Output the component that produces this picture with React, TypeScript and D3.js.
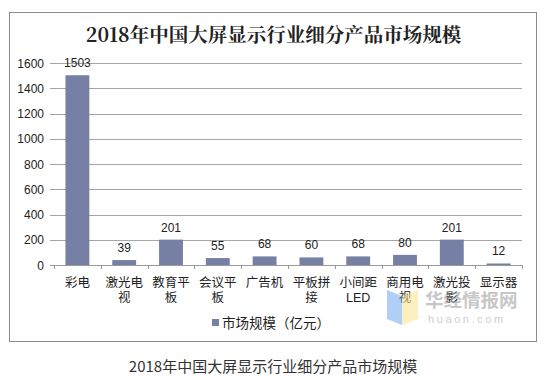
import React from "react";
import * as d3 from "d3";

const categories = ["彩电", "激光电视", "教育平板", "会议平板", "广告机", "平板拼接", "小间距LED", "商用电视", "激光投影", "显示器"];
const values = [1503, 39, 201, 55, 68, 60, 68, 80, 201, 12];
const yTicks = [0, 200, 400, 600, 800, 1000, 1200, 1400, 1600];
const title = "2018年中国大屏显示行业细分产品市场规模";
const seriesName = "市场规模（亿元）";

const W = 548, H = 380;
const left = 54, right = 522, top = 63, bottom = 265;
const barColor = "#7580A4";
const cjk = "'Noto Sans CJK SC', 'Noto Sans', sans-serif";
const latin = "'Liberation Sans', Arial, sans-serif";

function wrap(s: string): string[] {
  if (s.length <= 3) return [s];
  return [s.slice(0, 3), s.slice(3)];
}

export default function App() {
  const x = d3.scaleBand<string>().domain(categories).range([left, right]).paddingInner(0.49).paddingOuter(0.245);
  const xb = d3.scaleBand<string>().domain(categories).range([left, right]);
  const y = d3.scaleLinear().domain([0, 1600]).range([bottom, top]);
  const bounds = d3.range(categories.length + 1).map((i) => left + i * xb.step());

  return (
    <svg width={W} height={H} style={{ position: "absolute", left: 0, top: 0, background: "#fff" }}>
      <rect x={0} y={0} width={W} height={H} fill="#fff" />
      <rect x={9.5} y={12.5} width={527} height={329} fill="none" stroke="#8c8c8c" strokeWidth={1} />
      <text x={273.5} y={42} textAnchor="middle" fontFamily="'Noto Serif CJK SC', 'DejaVu Serif', serif" fontWeight="bold" fontSize={19.5} fill="#222">{title}</text>

      {yTicks.map((t) => (
        <g key={t}>
          <line x1={50} x2={right} y1={Math.round(y(t)) + 0.5} y2={Math.round(y(t)) + 0.5} stroke={t === 0 ? "#9a9a9a" : "#a6a6a6"} strokeWidth={1} />
          <text x={44} y={y(t) + 4.5} textAnchor="end" fontFamily={latin} fontSize={12} fill="#222">{t}</text>
        </g>
      ))}
      {bounds.map((b, i) => (
        <line key={i} x1={Math.round(b) + 0.5} x2={Math.round(b) + 0.5} y1={bottom} y2={bottom + 4} stroke="#9a9a9a" />
      ))}

      {categories.map((c, i) => (
        <g key={c}>
          <rect x={x(c)!} y={y(values[i])} width={x.bandwidth()} height={bottom - y(values[i])} fill={barColor} />
          <text x={x(c)! + x.bandwidth() / 2} y={y(values[i]) - 8} textAnchor="middle" fontFamily={latin} fontSize={12} fill="#222">{values[i]}</text>
          {wrap(c).map((line, j) => (
            <text key={j} x={xb(c)! + xb.bandwidth() / 2} y={286.5 + j * 15} textAnchor="middle" fontFamily={/^[A-Z]+$/.test(line) ? latin : cjk} fontSize={12.5} fill="#222">{line}</text>
          ))}
        </g>
      ))}

      <rect x={212} y={319} width={7} height={7} fill={barColor} />
      <text x={222} y={327.5} fontFamily={cjk} fontSize={13.5} fill="#222">{seriesName}</text>

      {/* watermark */}
      <g opacity={0.55}>
        <polygon points="387,290 402,296 402,325 387,319" fill="#6fa8f0" />
        <polygon points="402,296 418,290 418,319 402,325" fill="#fde48a" />
        <text x={425} y={307} fontFamily={cjk} fontWeight="bold" fontSize={18.5} fill="#9a9a9a">华经情报网</text>
        <text x={428} y={323} fontFamily={latin} fontSize={11} letterSpacing={2.6} fill="#a8a8a8">huaon.com</text>
      </g>

      <text x={273} y={372} textAnchor="middle" fontFamily={cjk} fontSize={15} fill="#333">{title}</text>
    </svg>
  );
}
